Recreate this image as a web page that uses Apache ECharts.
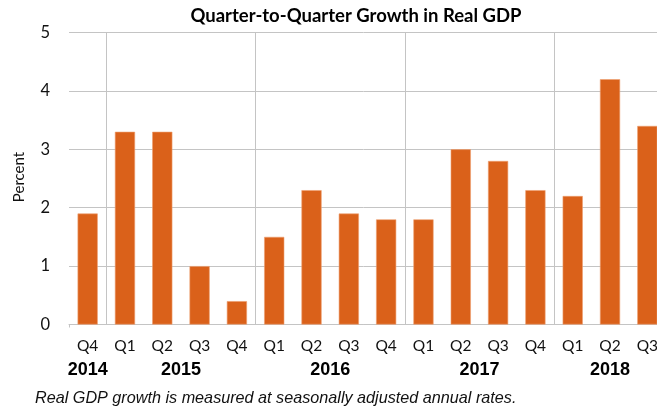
<!DOCTYPE html>
<html>
<head>
<meta charset="utf-8">
<script src="https://cdn.jsdelivr.net/npm/echarts@6/dist/echarts.min.js"></script>
<style>
html,body{margin:0;padding:0;background:#fff;}
#chart{width:657px;height:408px;}
</style>
</head>
<body>
<div id="chart"></div>
<script>
var quarters = ['Q4','Q1','Q2','Q3','Q4','Q1','Q2','Q3','Q4','Q1','Q2','Q3','Q4','Q1','Q2','Q3'];
var years = ['2014','2015','2015','2015','2015','2016','2016','2016','2016','2017','2017','2017','2017','2018','2018','2018'];
var growth = [1.9, 3.3, 3.3, 1.0, 0.4, 1.5, 2.3, 1.9, 1.8, 1.8, 3.0, 2.8, 2.3, 2.2, 4.2, 3.4];
var yTicks = [0, 1, 2, 3, 4, 5];
var titleText = 'Quarter-to-Quarter Growth in Real GDP';
var yAxisTitle = 'Percent';
var footnote = 'Real GDP growth is measured at seasonally adjusted annual rates.';

// year group boundaries and centres (in category units)
var yearStarts = [];
var yearCenters = {};
(function () {
  var i = 0;
  while (i < years.length) {
    var j = i;
    while (j + 1 < years.length && years[j + 1] === years[i]) j++;
    if (i > 0) yearStarts.push(i);
    yearCenters[((i + j + 1) / 2).toFixed(2)] = years[i];
    i = j + 1;
  }
})();

var chart = echarts.init(document.getElementById('chart'));
var baseFont = 'Lato, "Noto Sans", sans-serif';
var gridColor = '#C4C4C4';

chart.setOption({
  animation: false,
  backgroundColor: '#ffffff',
  grid: { left: 69, top: 32.5, width: 597, height: 292, containLabel: false, outerBoundsMode: 'none' },
  xAxis: [{
    type: 'category',
    data: quarters,
    boundaryGap: true,
    axisLine: { show: true, lineStyle: { color: gridColor, width: 1 } },
    axisTick: { show: true, alignWithLabel: false, length: 3, interval: function (idx) { return idx === yearStarts[0]; }, lineStyle: { color: gridColor } },
    splitLine: { show: true, interval: function (idx) { return yearStarts.indexOf(idx) >= 0; }, lineStyle: { color: gridColor, width: 1 } },
    axisLabel: { interval: 0, margin: 13, color: '#111', fontFamily: baseFont, fontSize: 15.5 }
  }, {
    type: 'value',
    position: 'bottom',
    min: 0,
    max: years.length,
    interval: 0.25,
    axisLine: { show: false },
    axisTick: { show: false },
    splitLine: { show: false },
    axisLabel: {
      margin: 37,
      color: '#000',
      fontFamily: '"Liberation Sans", Arial, sans-serif',
      fontWeight: 'bold',
      fontSize: 18,
      showMinLabel: true,
      showMaxLabel: true,
      hideOverlap: false,
      formatter: function (v) { return yearCenters[v.toFixed(2)] || ''; }
    }
  }],
  yAxis: {
    type: 'value',
    min: yTicks[0],
    max: yTicks[yTicks.length - 1],
    interval: 1,
    axisLine: { show: false },
    axisTick: { show: false },
    splitLine: { show: true, lineStyle: { color: gridColor, width: 1 } },
    axisLabel: { margin: 19, color: '#111', fontFamily: baseFont, fontSize: 16.5 }
  },
  series: [{
    type: 'bar',
    xAxisIndex: 0,
    data: growth,
    barWidth: '54%',
    itemStyle: { color: '#DA611A', borderColor: '#EFA071', borderWidth: 0.6 }
  }],
  graphic: [
    { type: 'text', x: 356, y: 16, style: { text: titleText, fontFamily: baseFont, fontWeight: 'bold', fontSize: 18.5, fill: '#000', align: 'center', verticalAlign: 'middle' } },
    { type: 'text', x: 19, y: 177, rotation: Math.PI / 2, style: { text: yAxisTitle, fontFamily: baseFont, fontSize: 15, fill: '#111', align: 'center', verticalAlign: 'middle' } },
    { type: 'text', x: 35, y: 398, style: { text: footnote, fontFamily: '"Liberation Sans", Arial, sans-serif', fontStyle: 'italic', fontSize: 16.2, fill: '#111', align: 'left', verticalAlign: 'middle' } }
  ]
});
</script>
</body>
</html>
